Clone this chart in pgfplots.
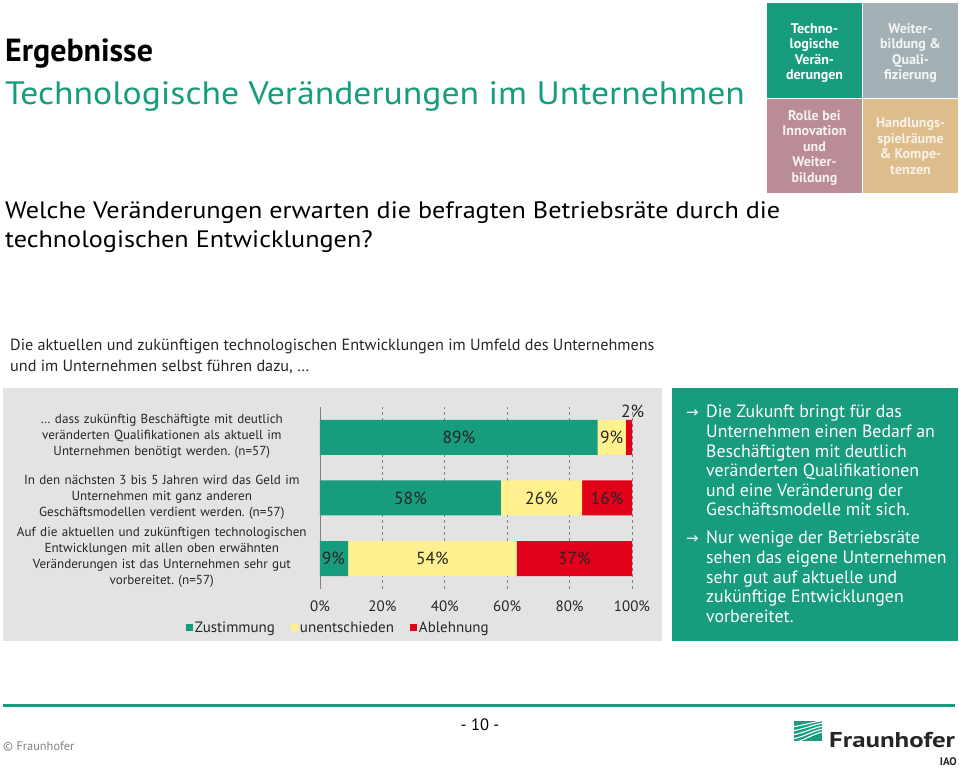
\documentclass[border=0pt]{standalone}
\usepackage{fontspec}
\setmainfont{PT Sans}
\newfontfamily\widefont[FakeStretch=1.1]{PT Sans}
\newfontfamily\logofont[FakeStretch=1.25]{PT Sans}
\newfontfamily\symfont{DejaVu Sans}
\usepackage{pgfplots}
\pgfplotsset{compat=1.18}
\definecolor{fhgreen}{RGB}{23,156,125}
\definecolor{baryellow}{RGB}{255,241,143}
\definecolor{barred}{RGB}{226,0,26}
\definecolor{panelgray}{RGB}{227,227,227}
\definecolor{navgray}{RGB}{163,177,180}
\definecolor{navrose}{RGB}{186,141,150}
\definecolor{navtan}{RGB}{221,189,140}
\newcommand{\fs}[2]{\fontsize{#1}{#2}\selectfont}
\frenchspacing
\begin{document}
\frenchspacing
\begin{tikzpicture}[x=1pt,y=1pt]
\path[use as bounding box] (0,0) rectangle (959,769);
% titles
\node[anchor=base west,inner sep=0] at (5,707) {\fs{32}{38}\bfseries Ergebnisse};
\node[anchor=base west,inner sep=0,text=fhgreen] at (5,664) {\widefont\fs{32.4}{40}Technologische Veränderungen im Unternehmen};
\node[anchor=base west,inner sep=0] at (5,550) {\widefont\fs{23.8}{29}Welche Veränderungen erwarten die befragten Betriebsräte durch die};
\node[anchor=base west,inner sep=0] at (5,521) {\widefont\fs{23.8}{29}technologischen Entwicklungen?};
\node[anchor=base west,inner sep=0,text=black!85] at (10,418) {\fs{16.2}{21}Die aktuellen und zukünftigen technologischen Entwicklungen im Umfeld des Unternehmens};
\node[anchor=base west,inner sep=0,text=black!85] at (10,397) {\fs{16.2}{21}und im Unternehmen selbst führen dazu, …};
% navigation cells
\fill[fhgreen] (767,671) rectangle (862,766);
\fill[navgray] (863,671) rectangle (958,766);
\fill[navrose] (767,576) rectangle (862,670);
\fill[navtan] (863,576) rectangle (958,670);
\node[align=center,text=white,font=\fs{14}{15.5}\bfseries] at (814.5,716) {Techno-\\logische\\Verän-\\derungen};
\node[align=center,text=white!88!navgray,font=\fs{14}{15.5}\bfseries] at (910.5,716) {Weiter-\\bildung \&\\Quali-\\fizierung};
\node[align=center,text=white!88!navrose,font=\fs{14}{15.5}\bfseries] at (814.5,621) {Rolle bei\\Innovation\\und\\Weiter-\\bildung};
\node[align=center,text=white!80!navtan,font=\fs{14}{15.5}\bfseries] at (910.5,623) {Handlungs-\\spielräume\\\& Kompe-\\tenzen};
% panels
\fill[panelgray] (3,128) rectangle (662,381);
\fill[fhgreen] (672,128) rectangle (958,381);
% right box text
\node[anchor=base west,inner sep=0,text=white] at (686,351) {\symfont\fs{15}{19.5}→};
\node[anchor=north west,inner sep=0,text=white,align=left,font=\fs{17.8}{19.6}] at (706,364) {Die Zukunft bringt für das\\Unternehmen einen Bedarf an\\Beschäftigten mit deutlich\\veränderten Qualifikationen\\und eine Veränderung der\\Geschäftsmodelle mit sich.};
\node[anchor=base west,inner sep=0,text=white] at (686,225) {\symfont\fs{15}{19.5}→};
\node[anchor=north west,inner sep=0,text=white,align=left,font=\fs{17.8}{19.6}] at (706,238) {Nur wenige der Betriebsräte\\sehen das eigene Unternehmen\\sehr gut auf aktuelle und\\zukünftige Entwicklungen\\vorbereitet.};
% chart
\begin{axis}[
  at={(320pt,180pt)}, anchor=south west,
  scale only axis, width=312pt, height=182pt,
  xbar stacked, bar width=35pt,
  xmin=0, xmax=100, ymin=0.5, ymax=3.5,
  axis lines*=left,
  x axis line style={draw=none},
  y axis line style={draw=gray, line width=0.8pt},
  major tick length=0pt,
  xtick={0,20,40,60,80,100},
  xticklabels={0\%,20\%,40\%,60\%,80\%,100\%},
  xticklabel style={font=\fs{15}{18}, text=black!85, yshift=-8pt},
  ytick={1,2,3},
  yticklabels={{Auf die aktuellen und zukünftigen technologischen\\Entwicklungen mit allen oben erwähnten\\Veränderungen ist das Unternehmen sehr gut\\vorbereitet.\ (n=57)},
    {In den nächsten 3 bis 5 Jahren wird das Geld im\\Unternehmen mit ganz anderen\\Geschäftsmodellen verdient werden.\ (n=57)},
    {… dass zukünftig Beschäftigte mit deutlich\\veränderten Qualifikationen als aktuell im\\Unternehmen benötigt werden.\ (n=57)}},
  yticklabel style={text width=300pt, align=center, inner sep=0pt, xshift=-8pt, yshift=1pt, font=\fs{13.1}{16}, text=black!85},
  xmajorgrids, grid style={dashed, gray, line width=0.7pt},
  clip=false,
  legend style={at={(-0.44,-0.214)}, anchor=west, legend columns=-1, draw=none, fill=none, font=\fs{15}{18}, text=black!85, /tikz/every even column/.append style={column sep=14pt}},
  legend image code/.code={\fill[#1,draw=none] (0pt,-3.5pt) rectangle (7pt,3.5pt);},
]
\addplot[fill=fhgreen, draw=none] coordinates {(89,3) (58,2) (9,1)};
\addplot[fill=baryellow, draw=none] coordinates {(9,3) (26,2) (54,1)};
\addplot[fill=barred, draw=none] coordinates {(2,3) (16,2) (37,1)};
\legend{Zustimmung,unentschieden,Ablehnung}
\end{axis}
% value labels (same geometry, not stacked)
\begin{axis}[
  at={(320pt,180pt)}, anchor=south west,
  scale only axis, width=312pt, height=182pt,
  xmin=0, xmax=100, ymin=0.5, ymax=3.5,
  hide axis, clip=false,
]
\addplot[draw=none, mark=none,
  nodes near coords, point meta=explicit symbolic,
  every node near coord/.append style={anchor=center, font=\fs{17.5}{20}, text=black!85}]
  coordinates {
  (44.5,3) [89\%] (93.5,3) [9\%] (100.2,3.42) [2\%]
  (29,2) [58\%] (71,2) [26\%] (92,2) [16\%]
  (4.3,1) [9\%] (36,1) [54\%] (81.5,1) [37\%]
  };
\end{axis}
% footer
\draw[fhgreen, line width=3pt] (3,64) -- (955,64);
\node[anchor=base,inner sep=0] at (480,38) {\fs{16.5}{18}- 10 -};
\node[anchor=base west,inner sep=0,text=gray] at (3,19) {\fs{12.4}{14}© Fraunhofer};
\begin{scope}
\clip (794,28) rectangle (822,48);
\fill[fhgreen] (794,28) rectangle (822,48);
\foreach \a/\b in {30/36, 34/39, 38/42, 42/45, 46/47.5}{
  \draw[white, line width=1.1pt] (792,\a-4) .. controls (804,\a-2) and (812,\b-1) .. (823,\b+1);
}
\end{scope}
\node[anchor=base west,inner sep=0,text=black!85] at (829,22) {\logofont\fs{21.5}{24}\bfseries Fraunhofer};
\node[anchor=base east,inner sep=0,text=black!85] at (957,4) {\fs{11}{13}\bfseries IAO};
\end{tikzpicture}
\end{document}
